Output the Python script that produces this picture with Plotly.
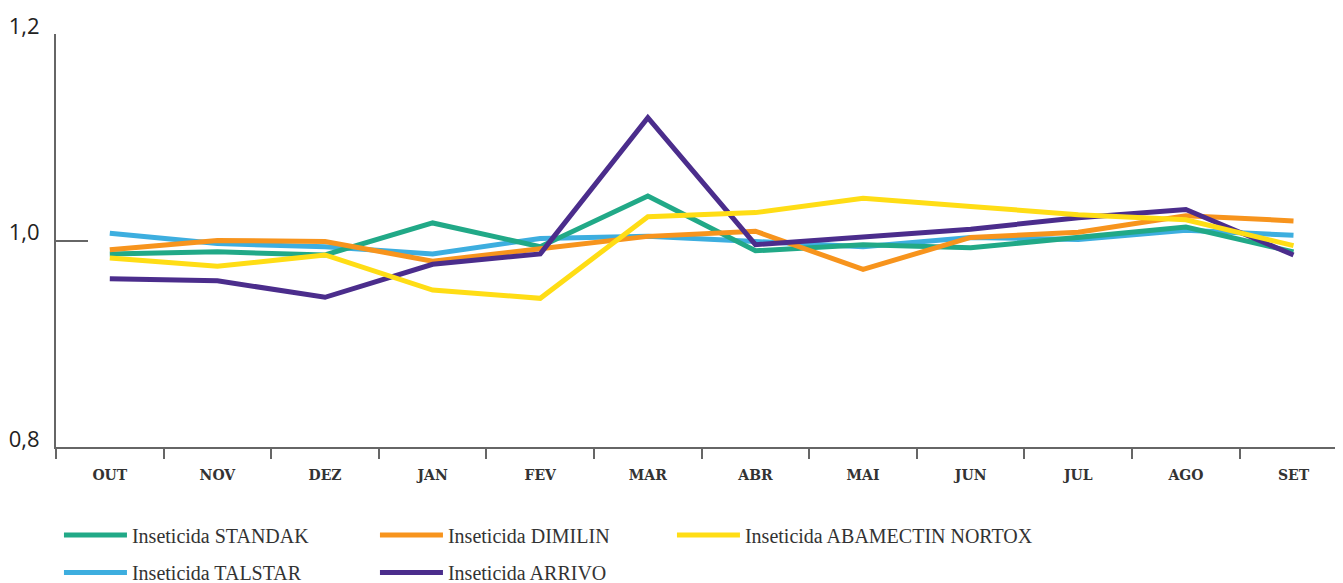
import plotly.graph_objects as go

months = ["OUT", "NOV", "DEZ", "JAN", "FEV", "MAR", "ABR", "MAI", "JUN", "JUL", "AGO", "SET"]

standak = [0.987, 0.989, 0.986, 1.017, 0.994, 1.043, 0.990, 0.996, 0.993, 1.003, 1.013, 0.989]
dimilin = [0.991, 1.000, 0.999, 0.980, 0.992, 1.004, 1.009, 0.972, 1.003, 1.008, 1.024, 1.019]
abamectin = [0.983, 0.975, 0.986, 0.952, 0.944, 1.023, 1.027, 1.041, 1.033, 1.025, 1.020, 0.995]
talstar = [1.007, 0.997, 0.994, 0.987, 1.002, 1.004, 0.999, 0.994, 1.003, 1.001, 1.010, 1.005]
arrivo = [0.963, 0.961, 0.945, 0.977, 0.987, 1.119, 0.996, 1.003, 1.011, 1.022, 1.030, 0.986]

names = ["Inseticida STANDAK", "Inseticida DIMILIN", "Inseticida ABAMECTIN NORTOX",
         "Inseticida TALSTAR", "Inseticida ARRIVO"]
colors = ["#21A987", "#F7941D", "#FFDD15", "#3DAEDF", "#4B2D8C"]
series = [standak, dimilin, abamectin, talstar, arrivo]
legend_ids = ["legend", "legend", "legend3", "legend2", "legend2"]
draw_order = [3, 0, 1, 4, 2]

fig = go.Figure()
for i in draw_order:
    fig.add_trace(go.Scatter(
        x=months, y=series[i], mode="lines", name=names[i],
        line=dict(color=colors[i], width=5),
        legend=legend_ids[i], legendrank=i + 1,
    ))

legend_font = dict(family="Liberation Serif", size=20, color="#333333")
legend_common = dict(
    orientation="h", xanchor="left", yanchor="middle",
    font=legend_font, bgcolor="rgba(0,0,0,0)", traceorder="normal",
    itemwidth=63,
)

fig.update_layout(
    width=1335, height=575,
    margin=dict(l=48, r=0, t=26, b=136, autoexpand=False),
    paper_bgcolor="white", plot_bgcolor="white",
    separators=",.",
    showlegend=True,
    legend=dict(x=0.0023, y=-0.213, entrywidth=238, entrywidthmode="pixels", **legend_common),
    legend2=dict(x=0.0023, y=-0.304, entrywidth=238, entrywidthmode="pixels", **legend_common),
    legend3=dict(x=0.4786, y=-0.213, **legend_common),
    xaxis=dict(
        type="category", range=[-0.5, 11.46],
        showgrid=False, zeroline=False,
        showline=True, linecolor="#666666", linewidth=2,
        ticks="outside", ticklen=10, tickcolor="#666666", tickwidth=2,
        tickson="boundaries",
        tickfont=dict(family="DejaVu Serif", size=14, color="#333333", weight="bold"),
        ticklabelstandoff=14,
    ),
    yaxis=dict(
        range=[0.8, 1.2], tickvals=[0.8, 1.0, 1.2], tickformat=".1f",
        showgrid=False, zeroline=False,
        showline=True, linecolor="#666666", linewidth=2,
        ticks="inside", ticklen=32, tickcolor="#666666", tickwidth=2,
        tickfont=dict(family="Open Sans", size=22, color="#222222"),
        ticklabelstandoff=10, ticklabelshift=-8,
    ),
)

fig.write_html("out.html")
